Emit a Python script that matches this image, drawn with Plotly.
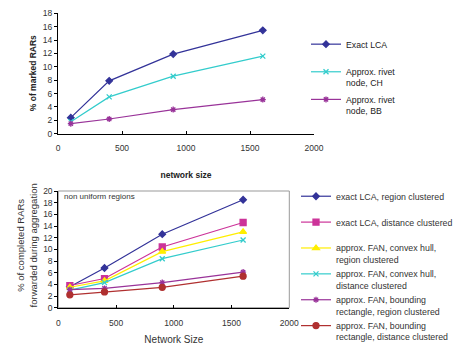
import plotly.graph_objects as go

# ---- data ----
sizes_top = [100, 400, 900, 1600]
exact_lca = [2.4, 7.9, 11.9, 15.45]
approx_ch = [1.8, 5.5, 8.6, 11.6]
approx_bb = [1.5, 2.2, 3.6, 5.1]
top_names = ["Exact LCA<br> ", "Approx. rivet<br>node, CH", "Approx. rivet<br>node, BB"]

sizes_bot = [100, 400, 900, 1600]
lca_region = [3.6, 6.8, 12.6, 18.5]
lca_distance = [3.8, 5.0, 10.4, 14.6]
fan_ch_region = [3.5, 4.6, 9.6, 13.0]
fan_ch_distance = [3.0, 4.3, 8.4, 11.6]
fan_bb_region = [3.1, 3.3, 4.3, 6.1]
fan_bb_distance = [2.2, 2.7, 3.5, 5.4]
bot_names = [
    "exact LCA, region clustered<br> ",
    "exact LCA, distance clustered<br> ",
    "approx. FAN, convex hull,<br>region clustered",
    "approx. FAN, convex hull,<br>distance clustered",
    "approx. FAN, bounding<br>rectangle, region clustered",
    "approx. FAN, bounding<br>rectangle, distance clustered",
]

FONT = "Liberation Sans, Arial, sans-serif"
W, H = 459, 345

fig = go.Figure()

top_styles = [
    ("#333399", "diamond", 5),
    ("#33CCCC", "x-thin-open", 5),
    ("#993399", "asterisk-open", 5),
]
for ys, name, (c, sym, sz) in zip([exact_lca, approx_ch, approx_bb], top_names, top_styles):
    fig.add_trace(go.Scatter(
        x=sizes_top, y=ys, name=name, mode="lines+markers",
        line=dict(color=c, width=1.2),
        marker=dict(color=c, symbol=sym, size=sz, line=dict(color=c, width=1.3)),
        xaxis="x", yaxis="y", legend="legend", legendgroup=name,
    ))

bot_styles = [
    ("#333399", "diamond", 5),
    ("#CC3399", "square", 6),
    ("#FFEE00", "triangle-up", 6),
    ("#33CCCC", "x-thin-open", 5),
    ("#993399", "asterisk-open", 5),
    ("#B03030", "circle", 6),
]
for ys, name, (c, sym, sz) in zip(
        [lca_region, lca_distance, fan_ch_region, fan_ch_distance, fan_bb_region, fan_bb_distance],
        bot_names, bot_styles):
    fig.add_trace(go.Scatter(
        x=sizes_bot, y=ys, name=name, mode="lines+markers",
        line=dict(color=c, width=1.2),
        marker=dict(color=c, symbol=sym, size=sz, line=dict(color=c, width=1.3)),
        xaxis="x2", yaxis="y2", legend="legend2", legendgroup=name,
    ))

axis_common = dict(
    showgrid=False, zeroline=False, showline=True, linecolor="black", linewidth=1,
    tickfont=dict(family=FONT, size=8.5, color="#333333"), ticklen=3, tickcolor="black",
    automargin=False,
)

fig.update_layout(
    width=W, height=H,
    margin=dict(l=0, r=0, t=0, b=0, autoexpand=False),
    paper_bgcolor="white", plot_bgcolor="white",
    font=dict(family=FONT, color="#333333"),
    xaxis=dict(domain=[58 / W, 314 / W], anchor="y", range=[0, 2000], dtick=500,
               ticks="inside", ticklabelstandoff=6,
               title=dict(text="<b>network size</b>", font=dict(family=FONT, size=8.5, color="#222222"),
                          standoff=20),
               **axis_common),
    yaxis=dict(domain=[(H - 133.7) / H, (H - 13.3) / H], anchor="x", range=[0, 18], dtick=2,
               ticks="outside", **axis_common),
    xaxis2=dict(domain=[58.3 / W, 289.3 / W], anchor="y2", range=[0, 2000], dtick=500,
                ticks="inside", ticklabelstandoff=7,
                title=dict(text="Network Size", font=dict(family=FONT, size=10, color="#333333"),
                           standoff=11),
                **axis_common),
    yaxis2=dict(domain=[(H - 307.7) / H, (H - 191) / H], anchor="x2", range=[0, 20], dtick=2,
                ticks="outside", **axis_common),
    legend=dict(x=306 / W, y=(H - 32) / H, xanchor="left", yanchor="top",
                font=dict(family=FONT, size=8.7, color="#222222"),
                bgcolor="rgba(0,0,0,0)", tracegroupgap=2, valign="top"),
    legend2=dict(x=296 / W, y=(H - 184) / H, xanchor="left", yanchor="top",
                 font=dict(family=FONT, size=8.8, color="#333333"),
                 bgcolor="rgba(0,0,0,0)", tracegroupgap=0, valign="top"),
    shapes=[dict(type="rect", xref="x2 domain", yref="y2 domain", x0=0, x1=1, y0=0, y1=1,
                 line=dict(color="#999999", width=1), layer="below")],
    annotations=[
        dict(text="non uniform regions", xref="x2 domain", yref="y2 domain",
             x=0.017, y=0.95, xanchor="left", yanchor="middle", showarrow=False,
             font=dict(family=FONT, size=8, color="#333333")),
        dict(text="<b>% of marked RARs</b>", xref="paper", yref="paper",
             x=32.7 / W, y=(H - 73.5) / H, xanchor="center", yanchor="middle",
             textangle=-90, showarrow=False,
             font=dict(family=FONT, size=8.5, color="#222222")),
        dict(text="% of completed RARs<br>forwarded during aggregation", xref="paper", yref="paper",
             x=26.4 / W, y=(H - 245) / H, xanchor="center", yanchor="middle",
             textangle=-90, showarrow=False,
             font=dict(family=FONT, size=9.5, color="#333333")),
    ],
)

fig.write_html("out.html", post_script="document.body.style.margin='0px';",
               config={"displayModeBar": False})
